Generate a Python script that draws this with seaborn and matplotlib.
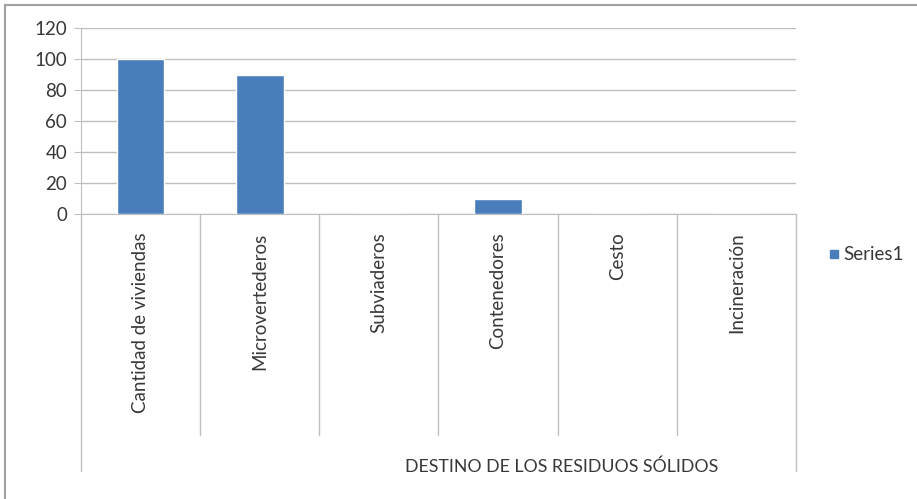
import pandas as pd
import matplotlib.pyplot as plt
import seaborn as sns
from matplotlib.patches import Rectangle
from matplotlib.lines import Line2D

categories = ['Cantidad de viviendas', 'Microvertederos', 'Subviaderos',
              'Contenedores', 'Cesto', 'Incineración']
values = [100, 90, 0, 10, 0, 0]
yticks = [0, 20, 40, 60, 80, 100, 120]

df = pd.DataFrame({'Destino': categories, 'Valor': values})

sns.set_style('white')
plt.rcParams['font.family'] = ['Lato', 'DejaVu Sans']

bar_color = '#4A7EBB'
grid_color = '#BFBFBF'
text_color = '#383838'

fig = plt.figure(figsize=(9.17, 4.99), dpi=100)
ax = fig.add_axes([81 / 917, 1 - 214 / 499, 715 / 917, 186 / 499])

sns.barplot(x='Destino', y='Valor', data=df, color=bar_color, width=0.4,
            saturation=1, ax=ax, zorder=3)

ax.set_ylim(0, 120)
ax.set_xlim(-0.5, len(categories) - 0.5)
ax.set_yticks(yticks)
ax.set_yticklabels([str(t) for t in yticks], fontsize=13.5, color=text_color)
ax.yaxis.grid(True, color=grid_color, linewidth=1)
ax.set_axisbelow(True)
ax.tick_params(axis='y', length=5, color=grid_color, pad=5, left=True)
ax.tick_params(axis='x', length=0, bottom=False)
ax.set_xticks([])
ax.set_xlabel('')
ax.set_ylabel('')

for s in ['top', 'right']:
    ax.spines[s].set_visible(False)
ax.spines['bottom'].set_color(grid_color)
ax.spines['left'].set_color(grid_color)

trans = ax.get_xaxis_transform()
# separators between categories
for i in range(1, len(categories)):
    ax.add_line(Line2D([i - 0.5, i - 0.5], [0, -1.19], transform=trans,
                       color=grid_color, linewidth=1, clip_on=False))
# outer edges of the category block
for xv in [-0.5, len(categories) - 0.5]:
    ax.add_line(Line2D([xv, xv], [0, -1.38], transform=trans,
                       color=grid_color, linewidth=1, clip_on=False))

# rotated category labels
for i, c in enumerate(categories):
    ax.text(i, -0.1, c, transform=trans, rotation=90, ha='center', va='top',
            fontsize=13.5, color=text_color)

# axis title
fig.text(562 / 917, 1 - 467 / 499, 'DESTINO DE LOS RESIDUOS SÓLIDOS',
         ha='center', va='center', fontsize=12.8, color=text_color)

# legend
fig.patches.append(Rectangle((830 / 917, 1 - 258 / 499), 8 / 917, 8 / 499,
                             transform=fig.transFigure, color=bar_color))
fig.text(843 / 917, 1 - 254 / 499, 'Series1', ha='left', va='center',
         fontsize=13.5, color=text_color)

# chart area border
fig.patches.append(Rectangle((5 / 917, -0.02), 1.1, 1 - 5 / 499 + 0.02,
                             transform=fig.transFigure, fill=False,
                             edgecolor='#A0A0A0', linewidth=1.5))

fig.savefig('out.png', dpi=100)
